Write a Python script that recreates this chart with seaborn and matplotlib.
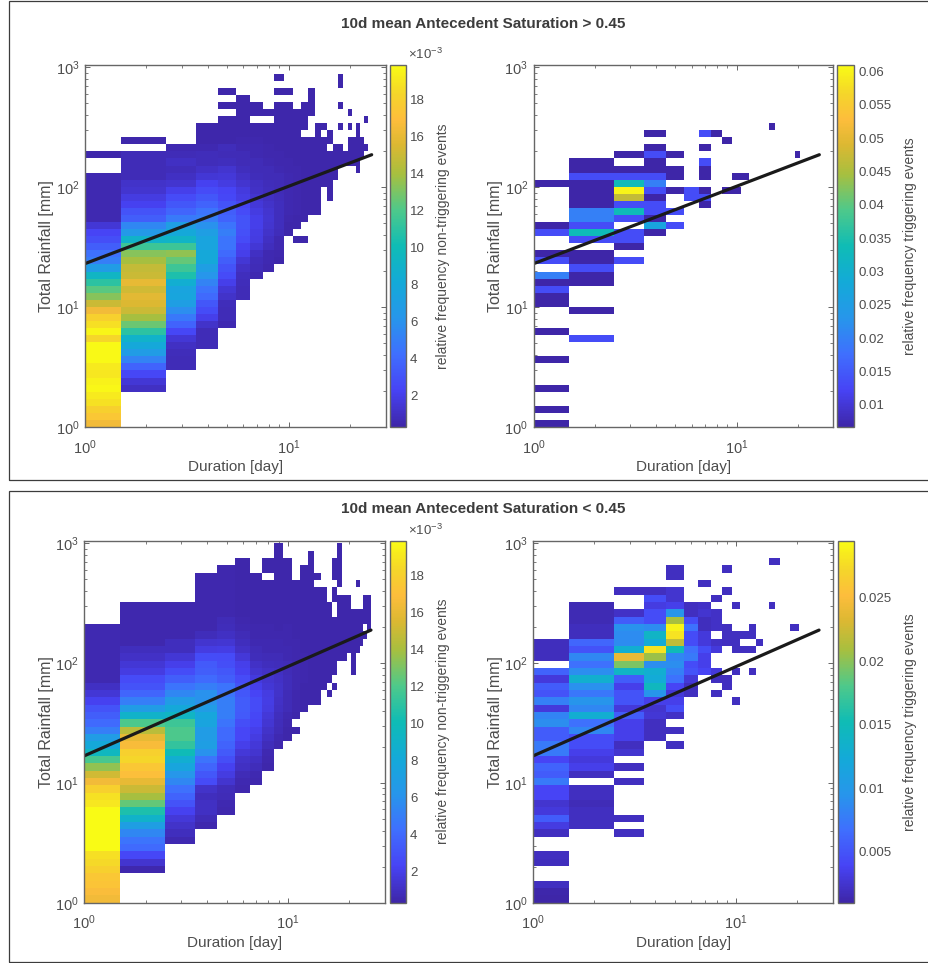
import numpy as np
import pandas as pd
import seaborn as sns
import matplotlib
matplotlib.use("Agg")
import matplotlib.pyplot as plt
from matplotlib.colors import LinearSegmentedColormap
from matplotlib.patches import Rectangle
from matplotlib.ticker import FixedLocator, LogFormatterMathtext, NullFormatter

W, H = 929, 963

# duration bins, one per day, clipped at the axis start
duration_edges = [1, 1.5, 2.5, 3.5, 4.5, 5.5, 6.5, 7.5, 8.5, 9.5, 10.5, 11.5, 12.5, 13.5,
                  14.5, 15.5, 16.5, 17.5, 18.5, 19.5, 20.5, 21.5, 22.5, 23.5, 24.5, 25.5]

# log10 width of one rainfall bin in the upper and lower row of panels
rain_step_upper = 0.0589
rain_step_lower = 0.0612

# threshold lines [day], [mm]
line_duration = [1, 25.6]
line_rain_upper = [23, 186]
line_rain_lower = [16.8, 188]

# cells: day -> (first rainfall bin, relative frequency x 1e-3 going upward, 0 = empty)
upper_nontrig = {
    1: (0, [16.5, 17.5, 18, 18.8, 19.2, 19.7, 19.5, 19, 19.2, 19.8, 19.8, 19.8, 18.3, 19.6, 18.7, 18, 16.5, 15,
            13.3, 12.3, 11, 9.3, 6.8, 5, 4.3, 3.5, 2.8, 2.3, 1.5, .6, .6, .6, .6, .6, .6, .6, 0, 0, .4]),
    2: (5, [1, 1.5, 2.5, 3.7, 5.2, 6.8, 8, 9, 11, 12.7, 14, 15, 15.6, 15.8, 15.2, 16, 15, 14.8, 14, 13.3,
            11.5, 9, 6.5, 5.5, 3.5, 3, 2.2, 1.8, 1.3, 1.2, .7, .7, .7, .7, 0, .4]),
    3: (8, [.7, .7, .8, 1, 1.5, 2.5, 3.7, 4.7, 5.8, 7, 7.6, 7.5, 8.5, 10.5, 11.5, 12.5, 13.5, 11.5, 9.2, 8, 7,
            4.8, 3.8, 3.2, 2.6, 2, 1.3, 1, .8, 1, .7, .6]),
    4: (11, [.7, .7, .7, 1.2, 2, 2.7, 3.2, 4, 4.5, 5.2, 6.2, 7, 8, 8, 7.5, 7.5, 7, 6, 5, 4.5, 3.7, 3.2, 2.6, 2.2,
             1.5, 1.1, .8, .8, .6, .4, .4, .4]),
    5: (14, [.6, .7, .7, .8, 1.2, 1.5, 2, 2.6, 3, 3.5, 4, 4.5, 4.5, 5, 4.5, 3.7, 3.5, 3, 2.5, 2.3, 1.8, 1.6, 1.3,
             .9, .7, .8, .4, .4, .4, .4, 0, .4, 0, .4]),
    6: (18, [.7, .7, .8, .9, 1.1, 1.5, 2, 2.2, 2.6, 2.9, 3, 3, 2.6, 2.3, 1.9, 1.7, 1.3, 1.1, .9, .7, .7, .6, .5,
             .4, .4, .4, .4, .4, .4]),
    7: (21, [.6, .7, .8, 1, 1.5, 1.8, 1.9, 2, 2, 1.8, 1.6, 1.3, 1.1, 1, .8, .7, .7, .6, .6, .5, .4, .4, 0, .4, .4]),
    8: (22, [.5, .6, .6, .9, 1, 1.2, 1.3, 1.4, 1.3, 1.2, 1, .9, .8, .7, .7, .6, .5, .5, .4, .4, .4, 0, .4]),
    9: (23, [.4, .5, .6, .6, .8, .9, .9, .9, .9, .8, .7, .7, .7, .6, .5, .5, .4, .4, .4, .4, .4, .4, .4, 0, .4, 0, .4]),
    10: (27, [.4, .4, .5, .6, .6, .6, .6, .6, .6, .5, .5, .4, .4, .4, .4, .4, .4, .4, .4, 0, .4]),
    11: (26, [.4, 0, .4, .4, .5, .5, .5, .5, .5, .5, .5, .4, .4, .4, .4, .4, .4, .4, .4]),
    12: (26, [.4, 0, 0, .4, .4, .4, .4, .4, .4, .4, .4, .4, .4, .4, .4, 0, .4, .4, .4, .4]),
    13: (30, [.4, .4, .4, .4, .4, .4, .4, .4, .4, .4, .4, 0, 0, 0, .4, .4, .4, .4]),
    14: (30, [.4, .4, .4, .4, .4, .4, .4, .4, .4, .4, .4, .4, .4]),
    15: (34, [.4, .4, .4, .4, .4, .4, .4, 0, .4]),
    16: (32, [.4, .4, .4, .4, .4, .4, .4, 0, .4, .4]),
    17: (35, [.4, .4, .4, .4, .4]),
    18: (37, [.4, .4, .4, 0, 0, .4, 0, 0, .4, 0, 0, .4, .4]),
    19: (37, [.4, .4]),
    20: (37, [.4, .4, .4, .4, 0, .4, 0, .4]),
    21: (37, [.4, .4, .4, .4]),
    22: (36, [.4, .4, .4, .4, .4, .4, .4]),
    23: (38, [.4, .4, .4]),
    24: (39, [.4, 0, 0, 0, .4]),
}

upper_trig = {
    1: (0, [6.7, 0, 6.7, 0, 0, 6.7, 0, 0, 0, 6.7, 0, 0, 0, 6.7, 0, 0, 0, 6.7, 6.7, 13.3, 6.7, 20, 0, 13.3, 6.7,
            0, 0, 13.3, 6.7, 0, 0, 0, 0, 0, 6.7]),
    2: (12, [13.3, 0, 0, 0, 6.7, 0, 0, 0, 6.7, 6.7, 13.3, 6.7, 6.7, 0, 13.3, 33.3, 13.3, 20, 20, 6.7, 6.7, 6.7,
             6.7, 13.3, 6.7, 6.7]),
    3: (23, [13.3, 0, 6.7, 13.3, 13.3, 0, 13.3, 33.3, 13.3, 47, 60, 33.3, 13.3, 6.7, 0, 6.7]),
    4: (27, [6.7, 26.7, 6.7, 13.3, 13.3, 6.7, 13.3, 20, 13.3, 6.7, 6.7, 13.3, 6.7, 0, 6.7]),
    5: (28, [13.3, 0, 13.3, 0, 0, 6.7, 0, 6.7, 6.7, 0, 6.7]),
    6: (32, [13.3, 13.3]),
    7: (31, [6.7, 13.3, 6.7, 0, 6.7, 6.7, 13.3, 0, 6.7, 0, 13.3]),
    8: (41, [6.7]),
    9: (33, [6.7, 0, 0, 0, 0, 0, 0, 6.7]),
    10: (33, [6.7, 0, 6.7]),
    11: (35, [6.7]),
    15: (42, [6.7]),
    20: (38, [6.7]),
}

lower_nontrig = {
    1: (0, [16.5, 16.8, 17.3, 17.5, 18, 18.5, 18.7, 19.9, 19.9, 19.9, 19.9, 19.9, 19.9, 19, 18.8, 18, 16.5, 15.2,
            13.5, 11.8, 9.5, 8, 6.8, 5, 4, 3.5, 3, 2.2, 1.5, 1, .6, .6, .6, .6, .6, .6, .6, .6]),
    2: (4, [.5, 1.3, 2.5, 4, 4.5, 5.5, 7, 9, 10.5, 12.5, 14, 15, 16, 17, 17.5, 18.3, 18, 16.7, 16, 14.5, 12, 9, 6.8,
            5, 3.8, 3, 2.6, 1.8, 1.5, 1.1, .9, .5, .5, .5, .5, .5, .5]),
    3: (8, [.6, .9, 1.2, 1.6, 2.2, 3, 3.7, 4.3, 5.5, 6.3, 7.6, 8.5, 10, 11.2, 12, 12, 11.5, 9.3, 8, 6.8, 5.5, 4.5,
            3.5, 2.7, 2, 1.5, .9, .9, .5, .5, .5, .5, .5]),
    4: (10, [.5, .7, 1, 1, .9, 1.2, 2.6, 3.2, 3.8, 4.5, 6, 7, 6.8, 6.8, 7.5, 7.8, 6.8, 6, 6, 5, 4, 3.5, 3.3, 2.7,
             1.8, 1.3, .8, .5, .5, .5, .5, .5, .5, .5, .5]),
    5: (12, [.5, .6, .7, .8, 1.3, 1.8, 2.2, 2.8, 3.3, 3.7, 4, 4, 4.5, 5, 5, 5, 4.5, 4.5, 3.5, 3.2, 2.8, 2.6, 1.9,
             1.4, 1, .8, .7, .5, .5, .5, .5, .5, .5, .5]),
    6: (15, [.5, .6, .7, 1, 1.2, 1.6, 2, 2.4, 2.4, 2.8, 3.3, 3.4, 3.4, 3.2, 3, 2.6, 2.2, 2, 1.6, 1.1, .9, .7, .6,
             .5, .4, .4, .4, .4, .4, .4, .4, .4]),
    7: (16, [.5, .6, .8, 1, 1.3, 1.6, 1.8, 2, 2.3, 2.5, 2.6, 2.6, 2.3, 2, 1.7, 1.3, 1.1, .8, .7, .6, .5, .5, .4, .4,
             .4, .4, .4, .4, .4]),
    8: (18, [.4, .5, .6, .8, 1, 1.2, 1.4, 1.6, 1.8, 1.9, 1.8, 1.5, 1.3, 1.1, .9, .7, .6, .6, .5, .5, .4, .4, .4, .4,
             .4, .4, 0, .4, .4]),
    9: (21, [.5, .6, .7, .8, .9, 1, 1.1, 1.2, 1.2, 1.1, 1, .8, .7, .6, .6, .5, .4, .4, .4, .4, .4, .4, .4, .4, .4,
             .4, .4, .4]),
    10: (22, [.4, .4, .5, .6, .7, .7, .7, .8, .8, .7, .7, .6, .6, .5, .5, .5, .4, .4, .4, .4, .4, .4, .4, .4, .4]),
    11: (23, [.4, 0, .4, .5, .5, .5, .6, .6, .6, .6, .5, .5, .5, .4, .4, .4, .4, .4, .4, .4, .4]),
    12: (26, [.4, .4, .4, .4, .5, .5, .5, .5, .4, .4, .4, .4, .4, .4, .4, .4, .4, .4, .4, .4]),
    13: (27, [.4, .4, .4, .4, .4, .4, .4, .4, .4, .4, .4, .4, .4, .4, .4, .4, .4, .4, .4, .4, .4]),
    14: (27, [.4, .4, .4, .4, .4, .4, .4, .4, .4, .4, .4, .4, .4, .4, .4, .4, 0, .4]),
    15: (29, [.4, .4, .4, .4, .4, .4, .4, .4, .4, .4, .4, .4, .4, .4]),
    16: (28, [.4, 0, .4, .4, .4, .4, .4, .4, .4, .4, .4, .4, .4]),
    17: (29, [.4, 0, .4, .4, .4, .4, .4, .4, .4, .4, 0, 0, .4, .4, 0, .4, .4, .4]),
    18: (33, [.4, .4, .4, .4, .4, .4, .4, .4, .4, 0, .4, .4, .4, .4, .4, .4]),
    19: (33, [.4, .4, .4, .4, .4, .4, .4, .4, .4]),
    20: (34, [.4, .4, .4, .4, .4, .4, .4, .4]),
    21: (31, [.4, .4, .4, .4, .4, .4, .4, .4, .4]),
    22: (34, [.4, .4, .4, .4, .4, .4, 0, 0, 0, .4]),
    23: (35, [.4, .4, .4, .4, .4]),
    24: (36, [.4, 0, .4, .4, .4, .4]),
    25: (37, [.4, .4, .4, .4, .4]),
}

lower_trig = {
    1: (0, [1, 1.2, 2, 0, 0, 1.8, 2, 0, 0, 2, 3.2, 5.5, 3, 2.5, 4, 4, 7.5, 5.5, 6, 4, 7.5, 7.5, 5.5, 5.5, 9, 8.3,
            3, 8, 5, 5.5, 3, 6, 0, 1.8, 1.8, 1.8]),
    2: (10, [2, 2, 2, 1.6, 2, 2, 0, 2, 3.5, 3, 3.5, 4.5, 4.5, 8.5, 6.8, 13, 8.5, 9.5, 7.3, 9.2, 13.2, 9, 6.8, 8.5,
             4.8, 6.2, 1.8, 1.8, 1.5, 1.5, 1.5]),
    3: (9, [2, 0, 2, 0, 0, 0, 0, 2, 0, 2, 0, 2.5, 2, 3.5, 3.5, 3.5, 5.5, 3, 5, 5, 3.5, 5.5, 14, 19.5, 24, 13, 8.8,
            8.8, 9.3, 5.5, 2.2, 0, 0, 2]),
    4: (22, [2, 2, 2, 2.7, 2.5, 3.5, 9.5, 14.5, 12.5, 13, 9, 20.5, 28, 12.5, 14, 8.8, 4.5, 4.5, 3.2, 4.5, 2]),
    5: (21, [2, 0, 2, 0, 2.2, 4.5, 3.5, 2.8, 4, 7, 8, 9, 8.5, 15, 22, 28, 29, 21, 9.5, 3.5, 2.5, 2.5, 0, 2, 2]),
    6: (28, [2, 2, 2.8, 5, 4.5, 7.5, 6.8, 4.5, 4.5, 7, 4.5, 2, 2]),
    7: (31, [4, 3.5, 3.5, 4.5, 3, 3, 1.8, 1.8, 2.5, 2.2, 0, 0, 2]),
    8: (28, [2, 0, 2, 3, 0, 0, 3, 2.2, 0, 2.2, 2.2, 2.2, 0, 2]),
    9: (29, [2, 2, 0, 0, 0, 0, 2, 2, 2, 0, 0, 0, 0, 2, 0, 0, 2]),
    10: (27, [2, 0, 0, 0, 2, 0, 0, 2, 2, 2, 0, 0, 0, 2]),
    11: (34, [2, 0, 2]),
    12: (31, [2, 0, 0, 2, 0, 2, 2]),
    13: (35, [2]),
    15: (40, [2, 0, 0, 0, 0, 0, 2]),
    16: (46, [2]),
    19: (37, [2]),
    20: (37, [2]),
}

# parula-like colours
parula_stops = [0, .1, .2, .3, .4, .5, .6, .7, .78, .85, .92, 1]
parula_colors = ["#3e26a8", "#4743f5", "#3f6ffe", "#2796eb", "#13aad8", "#0fbcb5",
                 "#4fc98a", "#a8bf3f", "#dcb832", "#fdbd3c", "#f5d52a", "#f9fb15"]
parula = LinearSegmentedColormap.from_list("parula", list(zip(parula_stops, parula_colors)))

sns.set_theme(style="white")
plt.rcParams["font.family"] = ["Liberation Sans", "DejaVu Sans"]
plt.rcParams["mathtext.fontset"] = "custom"
plt.rcParams["mathtext.rm"] = "Liberation Sans"
plt.rcParams["mathtext.default"] = "regular"

gray = "#4d4d4d"
line_gray = "#666666"
fig = plt.figure(figsize=(W / 100, H / 100), dpi=100)


def box(left, right, top, bottom):
    return [left / W, 1 - bottom / H, (right - left) / W, (bottom - top) / H]


def panel(pos, cb_pos, cells, step, line_rain, vmin, vmax, cticks, clabel, scaled):
    ax = fig.add_axes(box(*pos))
    rows = []
    for day, (first, values) in cells.items():
        for i, v in enumerate(values):
            if v > 0:
                rows.append((day, 10 ** ((first + i + 0.5) * step), v))
    df = pd.DataFrame(rows, columns=["Duration", "Rain", "Freq"])
    rain_edges = np.arange(0, 52) * step
    sns.histplot(data=df, x="Duration", y="Rain", weights="Freq",
                 bins=(np.log10(duration_edges), rain_edges),
                 log_scale=True, cmap=parula, cbar=False, ax=ax)
    mesh = ax.collections[0]
    mesh.set_clim(vmin, vmax)
    sns.lineplot(x=line_duration, y=line_rain, color="k", linewidth=2.3, errorbar=None, ax=ax)

    ax.set_xlim(1, 30)
    ax.set_ylim(1, 1047)
    ax.set_xlabel("Duration [day]", fontsize=11, color=gray, labelpad=2.5)
    ax.set_ylabel("Total Rainfall [mm]", fontsize=11.5, color=gray, labelpad=1)
    ax.xaxis.set_major_locator(FixedLocator([1, 10]))
    ax.yaxis.set_major_locator(FixedLocator([1, 10, 100, 1000]))
    ax.xaxis.set_major_formatter(LogFormatterMathtext())
    ax.yaxis.set_major_formatter(LogFormatterMathtext())
    ax.xaxis.set_minor_formatter(NullFormatter())
    ax.yaxis.set_minor_formatter(NullFormatter())
    minor = [m * 10 ** e for e in range(-1, 4) for m in range(2, 10)]
    ax.xaxis.set_minor_locator(FixedLocator(minor))
    ax.yaxis.set_minor_locator(FixedLocator(minor))
    ax.tick_params(which="major", direction="in", length=3.5, width=0.7, color=line_gray, top=True, right=True,
                   labelsize=10.5, labelcolor=gray, pad=4, bottom=True, left=True)
    ax.tick_params(axis="x", which="major", pad=8)
    ax.tick_params(which="minor", direction="in", length=2, width=0.6, color=line_gray, top=True, right=True,
                   bottom=True, left=True)
    for s in ax.spines.values():
        s.set_visible(True)
        s.set_color(line_gray)
        s.set_linewidth(1.0)

    cax = fig.add_axes(box(*cb_pos))
    cbar = fig.colorbar(mesh, cax=cax)
    cbar.set_ticks(cticks)
    if scaled:
        cbar.set_ticklabels([f"{t:g}" for t in cticks])
    else:
        cbar.set_ticklabels([f"{t / 1000:g}" for t in cticks])
    cbar.ax.tick_params(which="major", direction="in", length=3, width=0.7, color=line_gray, right=True,
                        labelsize=9.5, labelcolor=gray, pad=3)
    cbar.ax.minorticks_off()
    cbar.outline.set_edgecolor(line_gray)
    cbar.outline.set_linewidth(1.0)
    cbar.set_label(clabel, fontsize=10, color=gray, labelpad=8)
    if scaled:
        fig.text((cb_pos[0] + 18) / W, 1 - (cb_pos[2] - 3) / H, r"$\times 10^{-3}$", fontsize=9.5, color=gray,
                 va="bottom", ha="left")
    return ax


nt_ticks = [2, 4, 6, 8, 10, 12, 14, 16, 18]
panel((85, 385.7, 64.7, 427), (390, 406, 64.7, 427), upper_nontrig, rain_step_upper, line_rain_upper,
      0.3, 19.9, nt_ticks, "relative frequency non-triggering events", True)
panel((533.7, 833.3, 64.7, 427), (837, 854, 64.7, 427), upper_trig, rain_step_upper, line_rain_upper,
      6.7, 61, [10, 15, 20, 25, 30, 35, 40, 45, 50, 55, 60], "relative frequency triggering events", False)
panel((84.3, 385, 540.7, 902.7), (390, 406, 540.7, 902.7), lower_nontrig, rain_step_lower, line_rain_lower,
      0.3, 19.9, nt_ticks, "relative frequency non-triggering events", True)
panel((533.3, 833, 540.7, 902.7), (838, 854, 540.7, 902.7), lower_trig, rain_step_lower, line_rain_lower,
      1, 29.5, [5, 10, 15, 20, 25], "relative frequency triggering events", False)

# frames around the two groups
for top, bottom in [(1, 479.5), (491.5, 962)]:
    fig.add_artist(Rectangle((8.5 / W, 1 - bottom / H), 930 / W, (bottom - top) / H, fill=False,
                             edgecolor="#3c3c3c", linewidth=0.9, transform=fig.transFigure))

fig.text(483 / W, 1 - 24 / H, "10d mean Antecedent Saturation > 0.45", fontsize=11, fontweight="bold",
         color="#3c3c3c", ha="center", va="center")
fig.text(483 / W, 1 - 509 / H, "10d mean Antecedent Saturation < 0.45", fontsize=11, fontweight="bold",
         color="#3c3c3c", ha="center", va="center")

fig.savefig("out.png", dpi=100)
plt.close(fig)
